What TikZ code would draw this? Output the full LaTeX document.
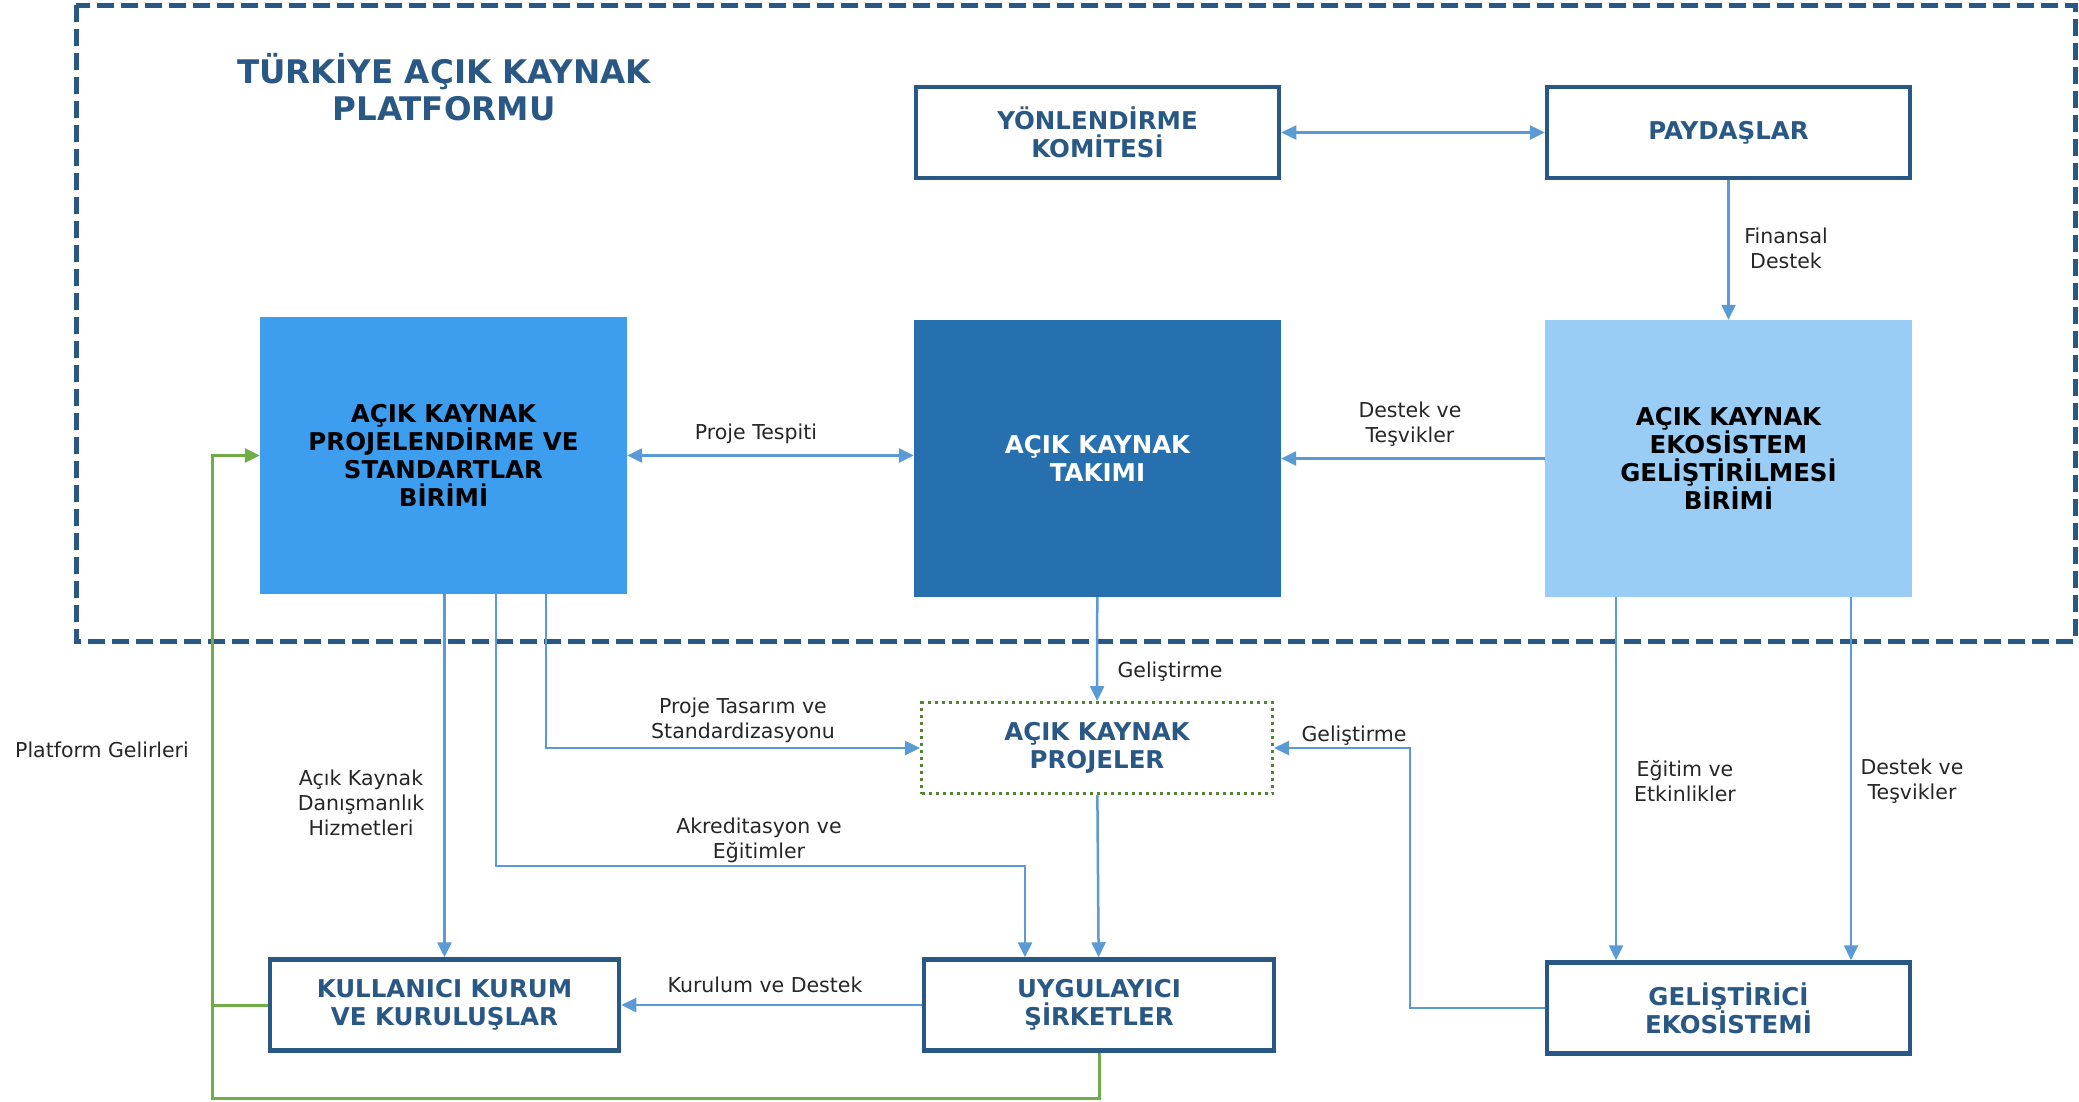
\documentclass[tikz,border=0pt]{standalone}
\usepackage{fontspec}
\setmainfont{DejaVu Sans}
\usetikzlibrary{arrows.meta}
\definecolor{navy}{RGB}{42,88,133}
\definecolor{linkblue}{RGB}{91,155,213}
\definecolor{unitblue}{RGB}{61,158,240}
\definecolor{teamblue}{RGB}{39,112,176}
\definecolor{ecoblue}{RGB}{154,205,246}
\definecolor{revgreen}{RGB}{112,173,71}
\definecolor{dotgreen}{RGB}{84,130,53}
\newcommand{\boxfont}{\fontsize{24.5}{28}\selectfont\bfseries}
\newcommand{\lblfont}{\fontsize{20.5}{25}\selectfont}
\begin{document}
\begin{tikzpicture}[
  x=1pt, y=-1pt,
  tip/.tip={Triangle[length=15pt, width=14pt]},
  frame/.style={draw=navy, line width=5pt, dash pattern=on 17pt off 7pt},
  outbox/.style={draw=navy, line width=4.5pt, fill=white, text=navy, font=\boxfont, align=center,
    minimum width=363pt, minimum height=91pt, inner sep=0pt},
  unitbox/.style={minimum width=367pt, minimum height=277pt, inner sep=0pt, align=center, font=\boxfont},
  link/.style={draw=linkblue, line width=2.5pt, -tip},
  rev/.style={draw=revgreen, line width=3pt},
  lbl/.style={font=\lblfont, align=center, text=black!85}
]
  \useasboundingbox (0,0) rectangle (2079,1101);
  \draw[frame] (76,5) rectangle (2075,641);
  \node[font=\fontsize{32.5}{37}\selectfont\bfseries, text=navy, align=center] (baslik) at (444,87)
    {TÜRKİYE AÇIK KAYNAK\\PLATFORMU};

  \node[outbox] (komite) at (1097.5,132.5) {YÖNLENDİRME\\KOMİTESİ};
  \node[outbox] (paydas) at (1728.5,132.5) {PAYDAŞLAR};
  \node[unitbox, fill=unitblue, text=black] (projbirim) at (443.5,455.5)
    {AÇIK KAYNAK\\PROJELENDİRME VE\\STANDARTLAR\\BİRİMİ};
  \node[unitbox, fill=teamblue, text=white] (takim) at (1097.5,458.5) {AÇIK KAYNAK\\TAKIMI};
  \node[unitbox, fill=ecoblue, text=black] (ekobirim) at (1728.5,458.5)
    {AÇIK KAYNAK\\EKOSİSTEM\\GELİŞTİRİLMESİ\\BİRİMİ};
  \node[outbox, draw=dotgreen, line width=3pt, dash pattern=on 3pt off 4pt, minimum width=351pt]
    (projeler) at (1097,748) {AÇIK KAYNAK\\PROJELER};
  \node[outbox, minimum width=349pt] (kullanici) at (444.5,1005) {KULLANICI KURUM\\VE KURULUŞLAR};
  \node[outbox, minimum width=350pt] (uygulayici) at (1099,1005) {UYGULAYICI\\ŞİRKETLER};
  \node[outbox] (gelistirici) at (1728.5,1008) {GELİŞTİRİCİ\\EKOSİSTEMİ};

  \draw[link, tip-tip] (komite) -- (paydas);
  \draw[link] (paydas) -- (ekobirim);
  \node[lbl] (finans) at (1786,248) {Finansal\\Destek};
  \draw[link, tip-tip] (projbirim.east) -- (takim.west |- projbirim.east);
  \node[lbl] (tespit) at (756,434) {Proje Tespiti};
  \draw[link] (ekobirim) -- (takim);
  \node[lbl] (destek) at (1410,424) {Destek ve\\Teşvikler};
  \draw[link] (takim) -- (projeler);
  \node[lbl] (gelistir) at (1170,672) {Geliştirme};

  \draw[link] (projbirim.south -| 546,0) |- (projeler.west);
  \node[lbl] (tasarim) at (743,720) {Proje Tasarım ve\\Standardizasyonu};
  \draw[link] (projbirim.south -| 496,0) |- (1025,866) -- (uygulayici.north -| 1025,0);
  \node[lbl] (akredite) at (759,840) {Akreditasyon ve\\Eğitimler};
  \draw[link] (projbirim.south -| kullanici.north) -- (kullanici.north);
  \node[lbl] (danisman) at (361,803) {Açık Kaynak\\Danışmanlık\\Hizmetleri};
  \draw[link] (projeler) -- (uygulayici);
  \draw[link] (uygulayici) -- (kullanici);
  \node[lbl] (kurulum) at (765,985) {Kurulum ve Destek};
  \draw[link] (gelistirici.west) -| (1410,748) -- (projeler.east);
  \node[lbl] (gelistirb) at (1354,736) {Geliştirme};
  \draw[link] (ekobirim.south -| 1616,0) -- (gelistirici.north -| 1616,0);
  \node[lbl] (egitim) at (1685,781) {Eğitim ve\\Etkinlikler};
  \draw[link] (ekobirim.south -| 1851,0) -- (gelistirici.north -| 1851,0);
  \node[lbl] (destekb) at (1912,781) {Destek ve\\Teşvikler};

  \draw[rev] (kullanici.west) -- (212,1005);
  \draw[rev, -tip] (uygulayici.south) |- (212,1098) |- (projbirim.west);
  \node[lbl] (gelir) at (102,750) {Platform Gelirleri};
\end{tikzpicture}
\end{document}
